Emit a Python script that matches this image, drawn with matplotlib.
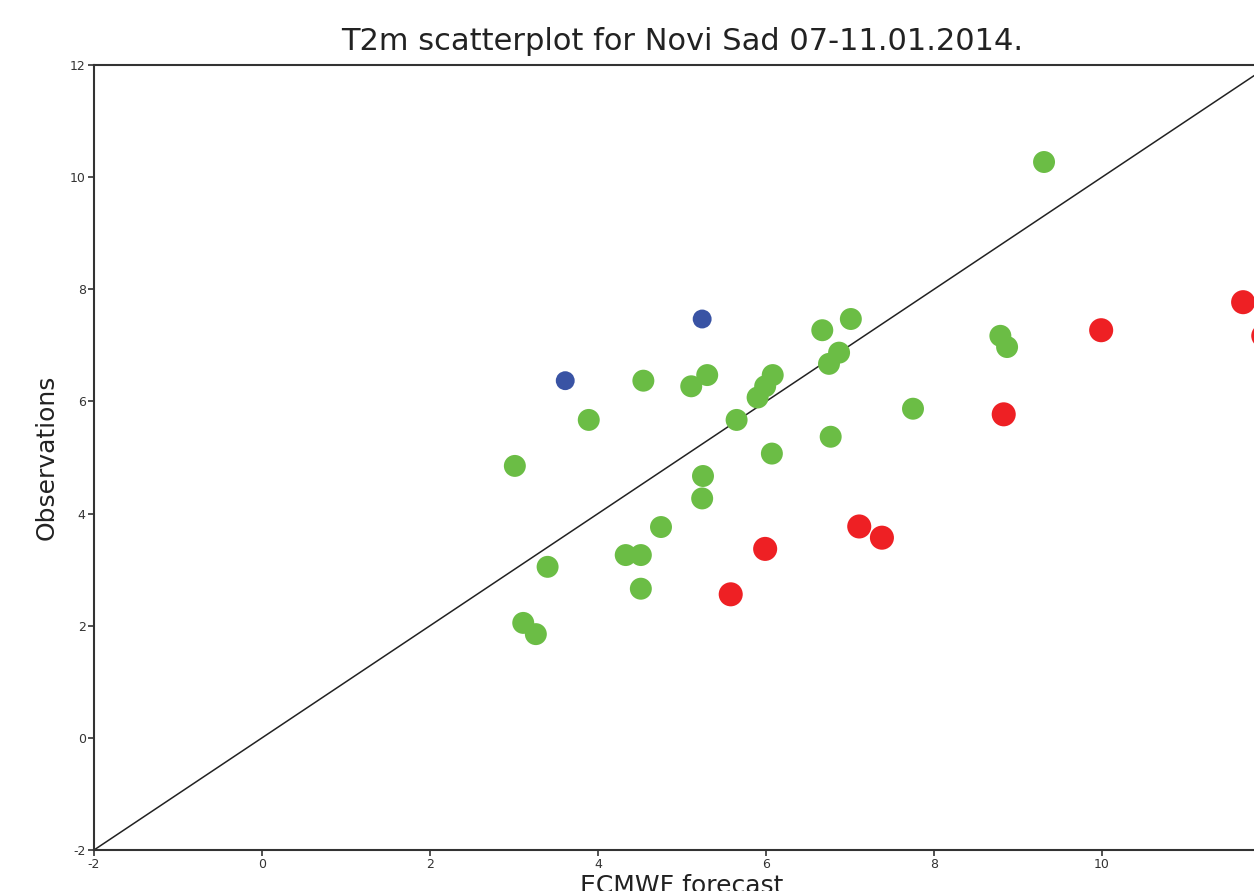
import matplotlib
matplotlib.use("Agg")
import matplotlib.pyplot as plt

plt.rcParams["axes.unicode_minus"] = False

# Forecast (x) vs observations (y)
green_x = [9.31, 3.01, 3.40, 3.11, 3.26, 3.89, 4.54, 4.33, 4.51, 4.51, 4.75, 5.11, 5.30,
           5.25, 5.24, 5.65, 5.90, 5.99, 6.08, 6.07, 6.67, 6.75, 6.87, 7.01, 6.77, 7.75, 8.79, 8.87]
green_y = [10.27, 4.85, 3.05, 2.05, 1.85, 5.67, 6.37, 3.26, 3.26, 2.66, 3.76, 6.27, 6.47,
           4.67, 4.27, 5.67, 6.07, 6.27, 6.47, 5.07, 7.27, 6.67, 6.87, 7.47, 5.37, 5.87, 7.17, 6.97]
blue_x = [3.61, 5.24]
blue_y = [6.37, 7.47]
red_x = [5.58, 5.99, 7.11, 7.38, 8.83, 9.99, 11.68, 11.92]
red_y = [2.56, 3.37, 3.77, 3.57, 5.77, 7.27, 7.77, 7.17]

xticks = [-2, 0, 2, 4, 6, 8, 10]
yticks = [-2, 0, 2, 4, 6, 8, 10, 12]

fig = plt.figure(figsize=(12.54, 8.91), dpi=100)
ax = fig.add_axes([94/1254, 41/891, 1176/1254, 785/891])

ax.plot([-2, 12], [-2, 12], color="#222222", lw=1.1, zorder=1)
ax.scatter(green_x, green_y, s=250, color="#6bbd45", edgecolors="none", zorder=2)
ax.scatter(blue_x, blue_y, s=185, color="#3953a4", edgecolors="none", zorder=2)
ax.scatter(red_x, red_y, s=300, color="#ee2024", edgecolors="none", zorder=2)

ax.set_xlim(-2, 12)
ax.set_ylim(-2, 12)
ax.set_xticks(xticks)
ax.set_yticks(yticks)
ax.tick_params(labelsize=9, length=4, width=1.2, color="#333333", labelcolor="#333333", pad=2)
for s in ["left", "bottom", "top", "right"]:
    ax.spines[s].set_color("#333333")
    ax.spines[s].set_linewidth(1.5)

ax.set_title("T2m scatterplot for Novi Sad 07-11.01.2014.", fontsize=22, color="#222222", pad=11)
ax.set_ylabel("Observations", fontsize=18, color="#222222", labelpad=8)
ax.set_xlabel("ECMWF forecast", fontsize=18, color="#222222", labelpad=2)

fig.savefig("out.png", dpi=100)
